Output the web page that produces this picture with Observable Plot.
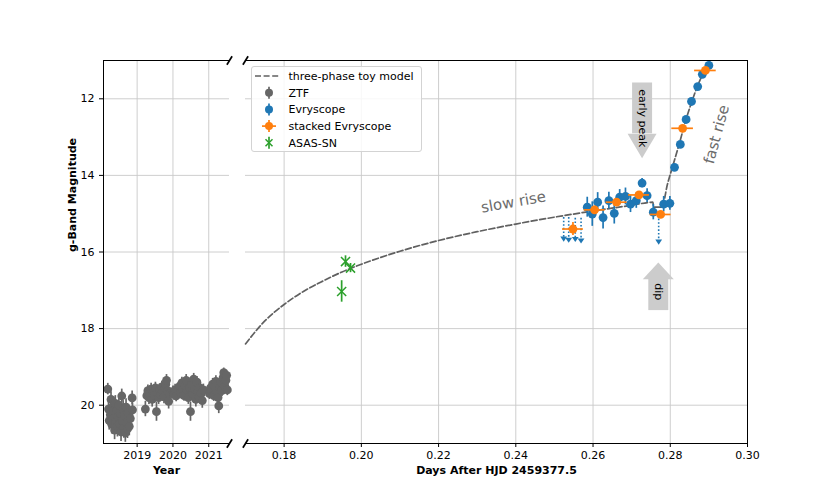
<!DOCTYPE html>
<html><head><meta charset="utf-8">
<script src="https://cdn.jsdelivr.net/npm/d3@7"></script>
<script src="https://cdn.jsdelivr.net/npm/@observablehq/plot@0.6"></script>
<style>
body{margin:0;background:#fff;font-family:"DejaVu Sans",sans-serif;}
#wrap{position:relative;width:830px;height:498px;overflow:hidden;background:#fff;}
#wrap svg.plotsvg{position:absolute;top:0;overflow:visible;}
#legend{position:absolute;left:251px;top:66px;width:171px;height:86px;border:1px solid #d3d3d3;border-radius:3px;background:rgba(255,255,255,0.85);box-sizing:border-box;}
#legend svg{position:absolute;left:0;top:0;}
</style></head><body><div id="wrap"><div id="legend"></div></div>
<script>
// ---------- data ----------
const magTicks = [12, 14, 16, 18, 20];
const yearTicks = [2019, 2020, 2021];
const dayTicks = [0.18, 0.20, 0.22, 0.24, 0.26, 0.28, 0.30];
const yearDomain = [2018.06, 2021.58];
const dayDomain = [0.17, 0.30];
const magDomain = [21, 11];

// ZTF
const ztfYear = [2018.18,2018.20,2018.22,2018.25,2018.27,2018.29,2018.31,2018.33,2018.35,2018.37,2018.39,2018.41,2018.43,2018.45,2018.47,2018.49,2018.51,2018.53,2018.55,2018.57,2018.59,2018.61,2018.63,2018.65,2018.67,2018.69,2018.71,2018.73,2018.75,2018.78,2018.81,2018.86,2018.87,
 2019.23,2019.27,2019.30,2019.33,2019.36,2019.39,2019.42,2019.45,2019.48,2019.51,2019.54,2019.57,2019.60,2019.63,2019.66,2019.69,2019.72,2019.75,2019.78,2019.80,2019.82,2019.85,2019.88,2019.91,
 2020.00,2020.03,2020.06,2020.09,2020.15,2020.19,2020.22,2020.25,2020.28,2020.31,2020.34,2020.37,2020.40,2020.43,2020.46,2020.49,2020.52,2020.55,2020.58,2020.61,2020.64,2020.67,2020.70,2020.73,2020.76,2020.79,2020.82,2020.85,
 2021.02,2021.05,2021.08,2021.11,2021.14,2021.17,2021.20,2021.23,2021.26,2021.28,2021.31,2021.34,2021.37,2021.40,2021.42,2021.45,2021.48,2021.50,2021.52];
const ztfMag = [19.58,20.10,20.40,20.25,19.85,20.50,20.05,20.35,20.15,20.65,19.95,20.45,20.15,20.55,20.30,20.00,20.48,20.22,20.70,19.76,20.40,20.10,20.58,20.28,20.72,20.05,20.45,20.62,20.20,20.55,20.35,19.81,20.12,
 20.10,19.75,19.62,19.80,19.70,19.58,19.85,19.66,19.74,19.55,20.17,19.68,19.80,19.60,19.72,19.52,19.65,19.78,19.55,19.45,19.35,19.62,19.90,19.70,
 19.65,19.72,19.60,19.76,19.58,19.50,19.68,19.42,19.60,19.75,19.48,19.35,19.62,19.80,19.55,20.17,19.45,19.70,19.32,19.58,19.85,19.40,19.65,19.78,19.55,19.70,19.88,19.60,
 19.70,19.55,19.62,19.45,19.75,19.50,19.38,19.65,19.80,20.02,19.55,19.40,19.62,19.28,19.15,19.50,19.35,19.22,19.60];
const ztfErr = [0.15,0.22,0.25,0.25,0.20,0.25,0.22,0.25,0.22,0.25,0.20,0.25,0.22,0.28,0.25,0.22,0.25,0.25,0.25,0.18,0.25,0.22,0.28,0.25,0.25,0.22,0.25,0.25,0.22,0.25,0.25,0.18,0.18,
 0.20,0.15,0.15,0.18,0.15,0.15,0.20,0.15,0.15,0.15,0.25,0.15,0.18,0.15,0.15,0.15,0.15,0.18,0.15,0.15,0.15,0.15,0.20,0.15,
 0.15,0.15,0.15,0.15,0.15,0.15,0.15,0.15,0.15,0.15,0.15,0.15,0.15,0.18,0.15,0.25,0.15,0.15,0.15,0.15,0.20,0.15,0.15,0.15,0.15,0.15,0.20,0.15,
 0.15,0.15,0.15,0.15,0.15,0.15,0.15,0.15,0.15,0.20,0.15,0.15,0.15,0.15,0.12,0.15,0.15,0.12,0.15];

// Evryscope
const evDay = [0.2585,0.2598,0.2612,0.2626,0.2641,0.2655,0.2669,0.2684,0.2697,0.2712,0.2727,0.2740,0.2756,0.2783,0.2799,0.2811,0.2826,0.2841,0.2855,0.2871,0.2883,0.2900];
const evMag = [14.83,15.01,14.70,15.10,14.66,14.99,14.57,14.55,14.75,14.66,14.20,14.53,14.96,14.75,14.73,13.79,13.19,12.54,12.07,11.68,11.36,11.13];
const evErr = [0.26,0.32,0.25,0.30,0.22,0.28,0.20,0.22,0.22,0.20,0.12,0.18,0.20,0.20,0.18,0.06,0.06,0.05,0.05,0.04,0.04,0.04];
// Evryscope upper limits
const ulDay = [0.2524, 0.2537, 0.2554, 0.2569, 0.2770];
const ulTop = [15.10, 15.10, 15.12, 15.12, 15.14];
const ulMag = [15.65, 15.68, 15.66, 15.70, 15.73];

// stacked Evryscope
const stDay = [0.2548, 0.2604, 0.2661, 0.2719, 0.2775, 0.2832, 0.2891];
const stMag = [15.40, 14.90, 14.70, 14.51, 15.02, 12.77, 11.26];
const stErr = [0.17, 0.10, 0.08, 0.07, 0.08, 0.05, 0.04];
const stHalfBin = [0.0027, 0.0027, 0.0027, 0.0027, 0.0027, 0.0028, 0.0028];

// ASAS-SN
const asDay = [0.1959, 0.1972, 0.1949];
const asMag = [16.25, 16.42, 17.03];
const asErr = [0.15, 0.12, 0.28];

// three-phase toy model
const modelDay = [0.170,0.175,0.180,0.185,0.190,0.195,0.200,0.210,0.220,0.230,0.240,0.250,0.260,0.270,0.2755,0.2757,0.2778,0.2793,0.2808,0.2824,0.2839,0.2855,0.2870,0.2886,0.2904];
const modelMag = [18.40,17.80,17.37,17.03,16.76,16.52,16.32,15.98,15.70,15.47,15.27,15.09,14.93,14.78,14.70,14.83,14.83,14.22,13.70,13.15,12.60,12.10,11.68,11.32,11.00];

// annotations
const phaseLabels = ["slow rise", "fast rise"];
const phaseDay = [0.2394, 0.2920];
const phaseMag = [14.70, 12.93];
const phaseAngle = [-10, -75];

const arrowLabels = ["early peak", "dip"];
const arrowDay = [0.2727, 0.2769];
const arrowTail = [11.59, 17.53];
const arrowBase = [12.91, 16.71];
const arrowTextMag = [12.51, 17.04];

// ---------- build ----------
const ztf = ztfYear.map((t, i) => ({t, m: ztfMag[i], e: ztfErr[i]}));
const ev = evDay.map((t, i) => ({t, m: evMag[i], e: evErr[i]}));
const ul = ulDay.map((t, i) => ({t, top: ulTop[i], m: ulMag[i]}));
const st = stDay.map((t, i) => ({t, m: stMag[i], e: stErr[i], w: stHalfBin[i]}));
const as = asDay.map((t, i) => ({t, m: asMag[i], e: asErr[i]}));
const model = modelDay.map((t, i) => ({t, m: modelMag[i]}));
const phases = phaseLabels.map((s, i) => ({s, t: phaseDay[i], m: phaseMag[i], a: phaseAngle[i]}));
const arrows = arrowLabels.map((s, i) => ({s, t: arrowDay[i], tail: arrowTail[i], base: arrowBase[i], tm: arrowTextMag[i]}));

const GRID = "#c8c8c8", ZTF = "#666666", BLUE = "#1f77b4", ORANGE = "#ff7f0e", GREEN = "#2ca02c", MODEL = "#606060", ARROW = "#cccccc";
const style = {fontFamily: "DejaVu Sans", fontSize: "11px", color: "black", background: "transparent", overflow: "visible"};

const head = (k, dir) => ({draw(ctx, size) { const r = Math.sqrt(size / Math.PI); ctx.moveTo(-r, 0); ctx.lineTo(r, 0); ctx.lineTo(0, dir * k * r); ctx.closePath(); }});
const triDown = {draw(ctx, size) { const r = Math.sqrt(size / Math.PI); ctx.moveTo(-r, -r * 0.6); ctx.lineTo(r, -r * 0.6); ctx.lineTo(0, r * 0.9); ctx.closePath(); }};

// break mark half-extent in pixel terms, converted to data units per panel
const yPix = 383, bx = 2.6, by = 4.2;
const magSpan = Math.abs(magDomain[0] - magDomain[1]);
const dyBreak = by / yPix * magSpan;

// left panel
const leftW = 240, leftML = 103, leftMR = 11;
const dxLeft = bx / (leftW - leftML - leftMR) * (yearDomain[1] - yearDomain[0]);
const breaksLeft = magDomain.map(m => ({x1: yearDomain[1] - dxLeft, x2: yearDomain[1] + dxLeft, y1: m + dyBreak, y2: m - dyBreak}));

const left = Plot.plot({
  width: leftW, height: 498, marginLeft: leftML, marginRight: leftMR, marginTop: 60, marginBottom: 55,
  style,
  x: {domain: yearDomain, ticks: yearTicks, tickFormat: "d", tickSize: 4, tickPadding: 4, label: null},
  y: {domain: magDomain, ticks: magTicks, tickSize: 4, tickPadding: 5, label: null},
  marks: [
    Plot.ruleY(magTicks, {stroke: GRID, strokeWidth: 0.9}),
    Plot.ruleX(yearTicks, {stroke: GRID, strokeWidth: 0.9}),
    Plot.ruleX(ztf, {x: "t", y1: d => d.m - d.e, y2: d => d.m + d.e, stroke: ZTF, strokeWidth: 1.7}),
    Plot.dot(ztf, {x: "t", y: "m", r: 4.4, fill: ZTF, stroke: "none"}),
    Plot.ruleX([yearDomain[0]], {stroke: "black", strokeWidth: 1}),
    Plot.ruleY([magDomain[0], magDomain[1]], {stroke: "black", strokeWidth: 1}),
    Plot.link(breaksLeft, {x1: "x1", x2: "x2", y1: "y1", y2: "y2", stroke: "black", strokeWidth: 1.7}),
    Plot.text(["Year"], {text: d => d, frameAnchor: "bottom", dy: 30, fontWeight: "bold", fontSize: 11}),
    Plot.text(["g-Band Magnitude"], {text: d => d, frameAnchor: "left", dx: -31, rotate: -90, fontWeight: "bold", fontSize: 11})
  ]
});

// right panel
const rightW = 595, rightML = 10, rightMR = 83;
const dxRight = bx / (rightW - rightML - rightMR) * (dayDomain[1] - dayDomain[0]);
const breaksRight = magDomain.map(m => ({x1: dayDomain[0] - dxRight, x2: dayDomain[0] + dxRight, y1: m + dyBreak, y2: m - dyBreak}));

const right = Plot.plot({
  width: rightW, height: 498, marginLeft: rightML, marginRight: rightMR, marginTop: 60, marginBottom: 55,
  style,
  x: {domain: dayDomain, ticks: dayTicks, tickFormat: ".2f", tickSize: 4, tickPadding: 4, label: null},
  y: {domain: magDomain, axis: null},
  marks: [
    Plot.ruleY(magTicks, {stroke: GRID, strokeWidth: 0.9}),
    Plot.ruleX(dayTicks, {stroke: GRID, strokeWidth: 0.9}),
    // annotation arrows
    Plot.ruleX(arrows, {x: "t", y1: "tail", y2: "base", stroke: ARROW, strokeWidth: 20}),
    Plot.dot([arrows[0]], {x: "t", y: "base", r: 14.5, symbol: head(1.7, 1), fill: ARROW, stroke: "none"}),
    Plot.dot([arrows[1]], {x: "t", y: "base", r: 15.5, symbol: head(1.08, -1), fill: ARROW, stroke: "none"}),
    Plot.text(arrows, {x: "t", y: "tm", text: "s", rotate: 90, fontSize: 11, fill: "black"}),
    // model
    Plot.line(model, {x: "t", y: "m", curve: "monotone-x", stroke: MODEL, strokeWidth: 1.7, strokeDasharray: "6,2.6"}),
    // ASAS-SN
    Plot.ruleX(as, {x: "t", y1: d => d.m - d.e, y2: d => d.m + d.e, stroke: GREEN, strokeWidth: 1.7}),
    Plot.dot(as, {x: "t", y: "m", r: 4.2, symbol: "times", stroke: GREEN, strokeWidth: 1.5, fill: "none"}),
    // Evryscope
    Plot.ruleX(ev, {x: "t", y1: d => d.m - d.e, y2: d => d.m + d.e, stroke: BLUE, strokeWidth: 1.7}),
    Plot.dot(ev, {x: "t", y: "m", r: 4.4, fill: BLUE, stroke: "none"}),
    Plot.ruleX(ul, {x: "t", y1: "top", y2: "m", stroke: BLUE, strokeWidth: 1.6, strokeDasharray: "1.6,2"}),
    Plot.dot(ul, {x: "t", y: "m", r: 3.4, symbol: triDown, fill: BLUE, stroke: "none"}),
    // stacked Evryscope
    Plot.ruleY(st, {y: "m", x1: d => d.t - d.w, x2: d => d.t + d.w, stroke: ORANGE, strokeWidth: 1.7}),
    Plot.ruleX(st, {x: "t", y1: d => d.m - d.e, y2: d => d.m + d.e, stroke: ORANGE, strokeWidth: 1.7}),
    Plot.dot(st, {x: "t", y: "m", r: 4.4, fill: ORANGE, stroke: "none"}),
    // phase labels
    Plot.text(phases, {x: "t", y: "m", text: "s", rotate: "a", fontSize: 15, fill: "#6b6b6b"}),
    // frame
    Plot.ruleX([dayDomain[1]], {stroke: "black", strokeWidth: 1}),
    Plot.ruleY([magDomain[0], magDomain[1]], {stroke: "black", strokeWidth: 1}),
    Plot.link(breaksRight, {x1: "x1", x2: "x2", y1: "y1", y2: "y2", stroke: "black", strokeWidth: 1.7}),
    Plot.text(["Days After HJD 2459377.5"], {text: d => d, frameAnchor: "bottom", dy: 30, fontWeight: "bold", fontSize: 11})
  ]
});

const wrap = document.getElementById("wrap");
left.classList.add("plotsvg"); left.style.left = "0px";
right.classList.add("plotsvg"); right.style.left = "235px";
wrap.insertBefore(left, wrap.firstChild);
wrap.insertBefore(right, document.getElementById("legend"));

// ---------- legend ----------
const legendItems = [
  {label: "three-phase toy model", kind: "line", color: MODEL},
  {label: "ZTF", kind: "dot", color: ZTF},
  {label: "Evryscope", kind: "dot", color: BLUE},
  {label: "stacked Evryscope", kind: "cross", color: ORANGE},
  {label: "ASAS-SN", kind: "x", color: GREEN}
];
const lg = d3.select("#legend").append("svg").attr("width", 171).attr("height", 86)
  .style("font-family", "DejaVu Sans").style("font-size", "11px");
legendItems.forEach((it, i) => {
  const cy = 9 + i * 16.7, cx = 17;
  const g = lg.append("g");
  if (it.kind === "line") {
    g.append("line").attr("x1", 3).attr("x2", 27).attr("y1", cy).attr("y2", cy)
      .attr("stroke", it.color).attr("stroke-width", 1.7).attr("stroke-dasharray", "6,2.6");
  } else if (it.kind === "x") {
    g.append("line").attr("x1", cx).attr("x2", cx).attr("y1", cy - 6).attr("y2", cy + 6).attr("stroke", it.color).attr("stroke-width", 1.7);
    g.append("path").attr("d", `M${cx-3.5},${cy-3.5}L${cx+3.5},${cy+3.5}M${cx-3.5},${cy+3.5}L${cx+3.5},${cy-3.5}`).attr("stroke", it.color).attr("stroke-width", 1.5);
  } else {
    g.append("line").attr("x1", cx).attr("x2", cx).attr("y1", cy - 6).attr("y2", cy + 6).attr("stroke", it.color).attr("stroke-width", 1.7);
    if (it.kind === "cross") g.append("line").attr("x1", cx - 7).attr("x2", cx + 7).attr("y1", cy).attr("y2", cy).attr("stroke", it.color).attr("stroke-width", 1.7);
    g.append("circle").attr("cx", cx).attr("cy", cy).attr("r", 4).attr("fill", it.color);
  }
  g.append("text").attr("x", 36.5).attr("y", cy).attr("dy", "0.35em").text(it.label);
});
</script></body></html>
